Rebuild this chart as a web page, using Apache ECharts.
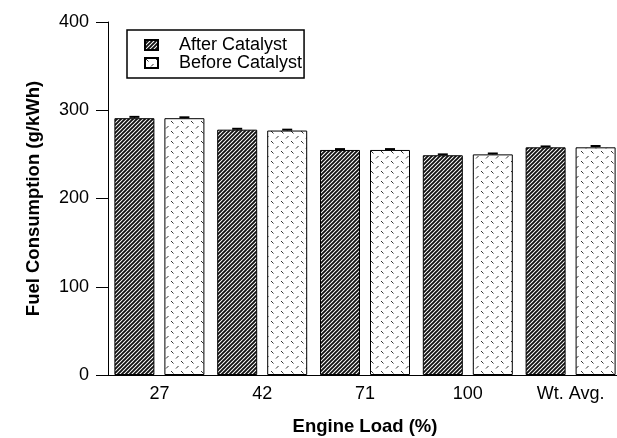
<!DOCTYPE html>
<html>
<head>
<meta charset="utf-8">
<script src="https://cdn.jsdelivr.net/npm/echarts@6/dist/echarts.min.js"></script>
<style>
  html, body { margin: 0; padding: 0; background: #fff; }
  #chart { width: 617px; height: 438px; }
</style>
</head>
<body>
<div id="chart"></div>
<script>
const loads = ['27', '42', '71', '100', 'Wt. Avg.']
const afterCatalyst = [291, 278, 255, 249, 258]
const beforeCatalyst = [291, 277, 255, 250, 258]
const afterErr = [1.5, 1, 1, 1, 1]
const beforeErr = [1, 1, 1, 1, 1.5]
const yTicks = [0, 100, 200, 300, 400]

// hatch fill for "after" bars
const makeHatch = () => {
  const c = document.createElement('canvas')
  c.width = 4
  c.height = 4
  const ctx = c.getContext('2d')
  ctx.fillStyle = '#fff'
  ctx.fillRect(0, 0, 4, 4)
  ctx.strokeStyle = '#111'
  ctx.lineWidth = 1.9
  ctx.beginPath()
  ctx.moveTo(-1, 5); ctx.lineTo(5, -1)
  ctx.moveTo(-1, 1); ctx.lineTo(1, -1)
  ctx.moveTo(3, 5); ctx.lineTo(5, 3)
  ctx.stroke()
  return c
}

// small dashes for "before" bars
const makeDash = () => {
  const c = document.createElement('canvas')
  c.width = 10
  c.height = 10
  const ctx = c.getContext('2d')
  ctx.fillStyle = '#fff'
  ctx.fillRect(0, 0, 10, 10)
  ctx.strokeStyle = '#333'
  ctx.lineWidth = 1
  ctx.beginPath()
  ctx.moveTo(1, 1); ctx.lineTo(3.5, 3.5)
  ctx.moveTo(6, 8.5); ctx.lineTo(8.5, 6)
  ctx.stroke()
  return c
}

const hatch = { image: makeHatch(), repeat: 'repeat' }
const dash = { image: makeDash(), repeat: 'repeat' }

const BAR_W = 40
const HALF_OFF = 25

const errSeries = (vals, errs, side) => ({
  type: 'custom',
  silent: true,
  z: 5,
  data: vals.map((v, i) => [i, v, errs[i]]),
  renderItem: (params, api) => {
    const i = api.value(0)
    const top = api.coord([i, api.value(1) + api.value(2)])
    const base = api.coord([i, api.value(1)])
    const x = top[0] + side * HALF_OFF
    return {
      type: 'group',
      children: [
        { type: 'line', shape: { x1: x, y1: base[1], x2: x, y2: top[1] }, style: { stroke: '#000', lineWidth: 1 } },
        { type: 'line', shape: { x1: x - 5, y1: top[1], x2: x + 5, y2: top[1] }, style: { stroke: '#000', lineWidth: 2 } }
      ]
    }
  }
})

const chart = echarts.init(document.getElementById('chart'), null, { renderer: 'canvas' })
chart.setOption({
  animation: false,
  backgroundColor: '#fff',
  textStyle: { fontFamily: 'Liberation Sans, Arial, sans-serif', color: '#000' },
  grid: { left: 108, right: -5, top: 22, bottom: 63, containLabel: false, outerBoundsMode: 'none' },
  legend: {
    orient: 'vertical',
    left: 127,
    top: 30,
    padding: [6, 2, 6, 17],
    itemGap: 0,
    itemWidth: 13,
    itemHeight: 10,
    borderColor: '#000',
    borderWidth: 1.5,
    icon: 'rect',
    textStyle: { fontSize: 18, color: '#000', padding: [0, 0, 0, 16] },
    data: ['After Catalyst', 'Before Catalyst']
  },
  xAxis: {
    type: 'category',
    data: loads,
    offset: 3,
    axisLine: { lineStyle: { color: '#000', width: 1 } },
    axisTick: { length: 12, lineStyle: { color: '#000' } },
    axisLabel: { fontSize: 18, color: '#000', margin: 7 },
    name: 'Engine Load (%)',
    nameLocation: 'middle',
    nameGap: 39,
    nameTextStyle: { fontSize: 18.5, fontWeight: 'bold', color: '#000' }
  },
  yAxis: {
    type: 'value',
    min: yTicks[0],
    max: yTicks[yTicks.length - 1],
    interval: 100,
    splitLine: { show: false },
    axisLine: { show: true, lineStyle: { color: '#000', width: 1 } },
    axisTick: { show: true, length: 12, lineStyle: { color: '#000' } },
    axisLabel: { fontSize: 18, color: '#000', margin: 19 },
    name: 'Fuel Consumption (g/kWh)',
    nameLocation: 'middle',
    nameGap: 65,
    nameTextStyle: { fontSize: 18.5, fontWeight: 'bold', color: '#000' }
  },
  series: [
    {
      name: 'After Catalyst',
      type: 'bar',
      data: afterCatalyst,
      barWidth: BAR_W,
      barGap: '25%',
      itemStyle: { color: hatch, borderColor: '#000', borderWidth: 1 }
    },
    {
      name: 'Before Catalyst',
      type: 'bar',
      data: beforeCatalyst,
      barWidth: BAR_W,
      barGap: '25%',
      itemStyle: { color: dash, borderColor: '#000', borderWidth: 1 }
    },
    errSeries(afterCatalyst, afterErr, -1),
    errSeries(beforeCatalyst, beforeErr, 1)
  ]
})
</script>
</body>
</html>
